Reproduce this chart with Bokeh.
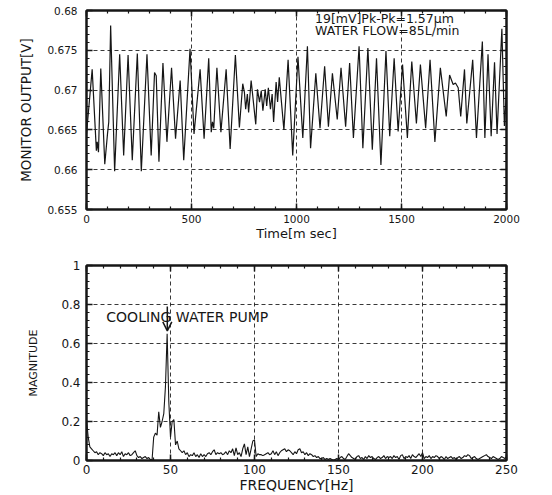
from bokeh.plotting import figure
from bokeh.layouts import column
from bokeh.models import (SingleIntervalTicker, LinearAxis, CustomJSTickFormatter,
                          Label, Arrow, OpenHead, Range1d)
from bokeh.embed import file_html
from bokeh.resources import INLINE

# ---------------- data ----------------
time_ms = [0, 27, 47, 51, 57, 68, 87, 100, 106, 115, 134, 158, 177, 198, 218, 242, 261,
           288, 308, 324, 332, 345, 364, 383, 405, 424, 446, 463, 493, 512, 541, 560,
           582, 594, 600, 606, 621, 640, 665, 684, 709, 728, 744, 752, 758, 766, 772,
           784, 806, 814, 824, 832, 840, 851, 858, 866, 876, 884, 891, 903, 910, 918,
           940, 960, 982, 1007, 1030, 1052, 1067, 1092, 1112, 1134, 1152, 1171, 1194,
           1212, 1234, 1253, 1271, 1298, 1316, 1340, 1361, 1381, 1402, 1426, 1444,
           1465, 1484, 1505, 1528, 1549, 1571, 1590, 1615, 1636, 1659, 1685, 1713,
           1729, 1746, 1757, 1770, 1782, 1800, 1811, 1839, 1857, 1885, 1897, 1912,
           1927, 1943, 1955, 1978, 1990, 2000]
monitor_v = [0.6645, 0.6726, 0.6624, 0.6635, 0.6622, 0.6727, 0.6607, 0.6645, 0.6660,
             0.6781, 0.6598, 0.6745, 0.6618, 0.6744, 0.6612, 0.6746, 0.6598, 0.6745,
             0.6618, 0.6722, 0.6718, 0.6610, 0.6734, 0.6635, 0.6728, 0.6639, 0.6712,
             0.6612, 0.6752, 0.6645, 0.6726, 0.6639, 0.6740, 0.6647, 0.6660, 0.6652,
             0.6728, 0.6647, 0.6726, 0.6626, 0.6744, 0.6653, 0.6708, 0.6697, 0.6676,
             0.6695, 0.6672, 0.6712, 0.6657, 0.6701, 0.6685, 0.6699, 0.6674, 0.6701,
             0.6680, 0.6703, 0.6676, 0.6695, 0.6660, 0.6710, 0.6685, 0.6716, 0.6650,
             0.6738, 0.6618, 0.6742, 0.6640, 0.6755, 0.6627, 0.6721, 0.6652, 0.6730,
             0.6654, 0.6721, 0.6663, 0.6728, 0.6654, 0.6734, 0.6640, 0.6755, 0.6627,
             0.6753, 0.6625, 0.6740, 0.6606, 0.6749, 0.6642, 0.6740, 0.6648, 0.6732,
             0.6640, 0.6736, 0.6658, 0.6732, 0.6652, 0.6738, 0.6635, 0.6728, 0.6667,
             0.6719, 0.6707, 0.6709, 0.6703, 0.6667, 0.6726, 0.6658, 0.6738, 0.6640,
             0.6761, 0.6640, 0.6745, 0.6642, 0.6735, 0.6645, 0.6777, 0.6655, 0.6700]

freq_hz = list(range(0, 251))
magnitude = [
    0.21, 0.12, 0.07, 0.06, 0.05, 0.04, 0.045, 0.03, 0.04, 0.035,
    0.025, 0.04, 0.03, 0.035, 0.02, 0.035, 0.03, 0.04, 0.025, 0.04,
    0.03, 0.045, 0.02, 0.035, 0.03, 0.04, 0.025, 0.03, 0.04, 0.05,
    0.025, 0.015, 0.02, 0.01, 0.015, 0.02, 0.01, 0.015, 0.005, 0.0,
    0.12, 0.14, 0.13, 0.25, 0.17, 0.2, 0.24, 0.38, 0.65, 0.3,
    0.12, 0.2, 0.21, 0.08, 0.1, 0.06, 0.05, 0.04, 0.05, 0.03,
    0.04, 0.02, 0.03, 0.025, 0.04, 0.02, 0.03, 0.015, 0.035, 0.02,
    0.03, 0.02, 0.035, 0.04, 0.03, 0.045, 0.055, 0.03, 0.04, 0.035,
    0.04, 0.03, 0.035, 0.045, 0.03, 0.05, 0.04, 0.06, 0.025, 0.065,
    0.03, 0.04, 0.02, 0.06, 0.085, 0.03, 0.07, 0.02, 0.06, 0.1,
    0.105, 0.02, 0.035, 0.03, 0.03, 0.025, 0.03, 0.035, 0.04, 0.03,
    0.035, 0.05, 0.03, 0.045, 0.025, 0.04, 0.05, 0.055, 0.06, 0.045,
    0.055, 0.05, 0.04, 0.03, 0.045, 0.035, 0.055, 0.06, 0.04, 0.045,
    0.03, 0.04, 0.025, 0.035, 0.03, 0.02, 0.025, 0.015, 0.02, 0.01,
    0.01, 0.015, 0.005, 0.01, 0.005, 0.01, 0.005, 0.0, 0.005, 0.01,
    0.005, 0.015, 0.02, 0.01, 0.005, 0.02, 0.035, 0.025, 0.015, 0.01,
    0.005, 0.02, 0.025, 0.01, 0.015, 0.005, 0.02, 0.01, 0.025, 0.015,
    0.02, 0.01, 0.005, 0.015, 0.02, 0.01, 0.015, 0.025, 0.01, 0.02,
    0.015, 0.02, 0.01, 0.025, 0.015, 0.02, 0.005, 0.025, 0.03, 0.01,
    0.02, 0.015, 0.025, 0.01, 0.03, 0.02, 0.015, 0.025, 0.035, 0.02,
    0.04, 0.01, 0.02, 0.015, 0.025, 0.01, 0.02, 0.015, 0.025, 0.02,
    0.01, 0.02, 0.015, 0.005, 0.02, 0.01, 0.015, 0.02, 0.01, 0.015,
    0.005, 0.015, 0.02, 0.01, 0.015, 0.025, 0.02, 0.03, 0.025, 0.01,
    0.015, 0.02, 0.01, 0.005, 0.01, 0.015, 0.02, 0.025, 0.03, 0.02,
    0.015, 0.01, 0.02, 0.015, 0.01, 0.005, 0.01, 0.02, 0.015, 0.01, 0.02]

top_note_1 = "19[mV]Pk-Pk=1.57\u03bcm"
top_note_2 = "WATER FLOW=85L/min"
pump_note = "COOLING WATER PUMP"
pump_freq = 48.1

FONT = "DejaVu Sans"
INK = "#161616"
fmt_code = "return String(Number(tick.toFixed(4)));"


def dress(p, x_int, y_int, tick_px, x_std, y_std, xlab_std, ylab_std,
          xlab_px, ylab_px):
    p.outline_line_color = INK
    p.outline_line_width = 2
    p.background_fill_color = "white"
    p.border_fill_color = "white"
    for g in (p.xgrid[0], p.ygrid[0]):
        g.grid_line_color = INK
        g.grid_line_dash = "4 3"
        g.grid_line_width = 1
        g.grid_line_alpha = 0.85
    p.xgrid[0].ticker = SingleIntervalTicker(interval=x_int, num_minor_ticks=5)
    p.ygrid[0].ticker = SingleIntervalTicker(interval=y_int, num_minor_ticks=5)

    def common(ax):
        ax.axis_line_color = INK
        ax.axis_line_width = 2
        ax.major_tick_in = 6
        ax.major_tick_out = 0
        ax.minor_tick_in = 3
        ax.minor_tick_out = 0
        ax.major_tick_line_color = INK
        ax.minor_tick_line_color = INK
        ax.major_tick_line_width = 1.5
        ax.minor_tick_line_width = 1.2

    xa = p.xaxis[0]
    ya = p.yaxis[0]
    xa.ticker = SingleIntervalTicker(interval=x_int, num_minor_ticks=5)
    ya.ticker = SingleIntervalTicker(interval=y_int, num_minor_ticks=5)
    for ax, std, lstd, lpx in ((xa, x_std, xlab_std, xlab_px), (ya, y_std, ylab_std, ylab_px)):
        common(ax)
        ax.formatter = CustomJSTickFormatter(code=fmt_code)
        ax.major_label_text_font = FONT
        ax.major_label_text_font_size = tick_px
        ax.major_label_text_color = INK
        ax.major_label_standoff = std
        ax.axis_label_text_font = FONT
        ax.axis_label_text_font_style = "normal"
        ax.axis_label_text_font_size = lpx
        ax.axis_label_text_color = INK
        ax.axis_label_standoff = lstd

    for loc, iv in (("above", x_int), ("right", y_int)):
        ax = LinearAxis(ticker=SingleIntervalTicker(interval=iv, num_minor_ticks=5),
                        formatter=CustomJSTickFormatter(code="return '';"))
        common(ax)
        ax.major_label_text_font_size = "1px"
        ax.major_label_standoff = 0
        p.add_layout(ax, loc)


# ---------------- top: time signal ----------------
p1 = figure(width=545, height=245, output_backend="svg", toolbar_location=None,
            x_range=Range1d(0, 2000), y_range=Range1d(0.655, 0.68),
            min_border_left=86, min_border_right=38, min_border_top=10,
            min_border_bottom=36,
            x_axis_label="Time[m sec]", y_axis_label="MONITOR OUTPUT[V]")
dress(p1, 500, 0.005, "10.5px", 5, 9, 0, 10, "13px", "13.5px")
p1.line(time_ms, monitor_v, line_color=INK, line_width=1.2)
for txt, yy in ((top_note_1, 0.6790), (top_note_2, 0.67749)):
    p1.add_layout(Label(x=1088, y=yy, text=txt, text_baseline="middle",
                        text_font=FONT, text_font_size="12.5px", text_color=INK))

# ---------------- bottom: spectrum ----------------
p2 = figure(width=545, height=250, output_backend="svg", toolbar_location=None,
            x_range=Range1d(0, 250), y_range=Range1d(0, 1),
            min_border_left=82, min_border_right=39, min_border_top=20,
            min_border_bottom=32,
            x_axis_label="FREQUENCY[Hz]", y_axis_label="MAGNITUDE")
dress(p2, 50, 0.2, "12px", 4, 6, 0, 18, "14px", "11px")
p2.line(freq_hz, magnitude, line_color=INK, line_width=1.1)
p2.add_layout(Label(x=11.8, y=0.737, text=pump_note, text_baseline="middle",
                    text_font=FONT, text_font_size="14px", text_color=INK))
p2.add_layout(Arrow(end=OpenHead(size=9, line_width=1.5, line_color=INK),
                    x_start=pump_freq, y_start=0.79, x_end=pump_freq, y_end=0.665,
                    line_width=1.5, line_color=INK))

layout = column(p1, p2, spacing=0)
open("out.html", "w").write(file_html(layout, INLINE))
